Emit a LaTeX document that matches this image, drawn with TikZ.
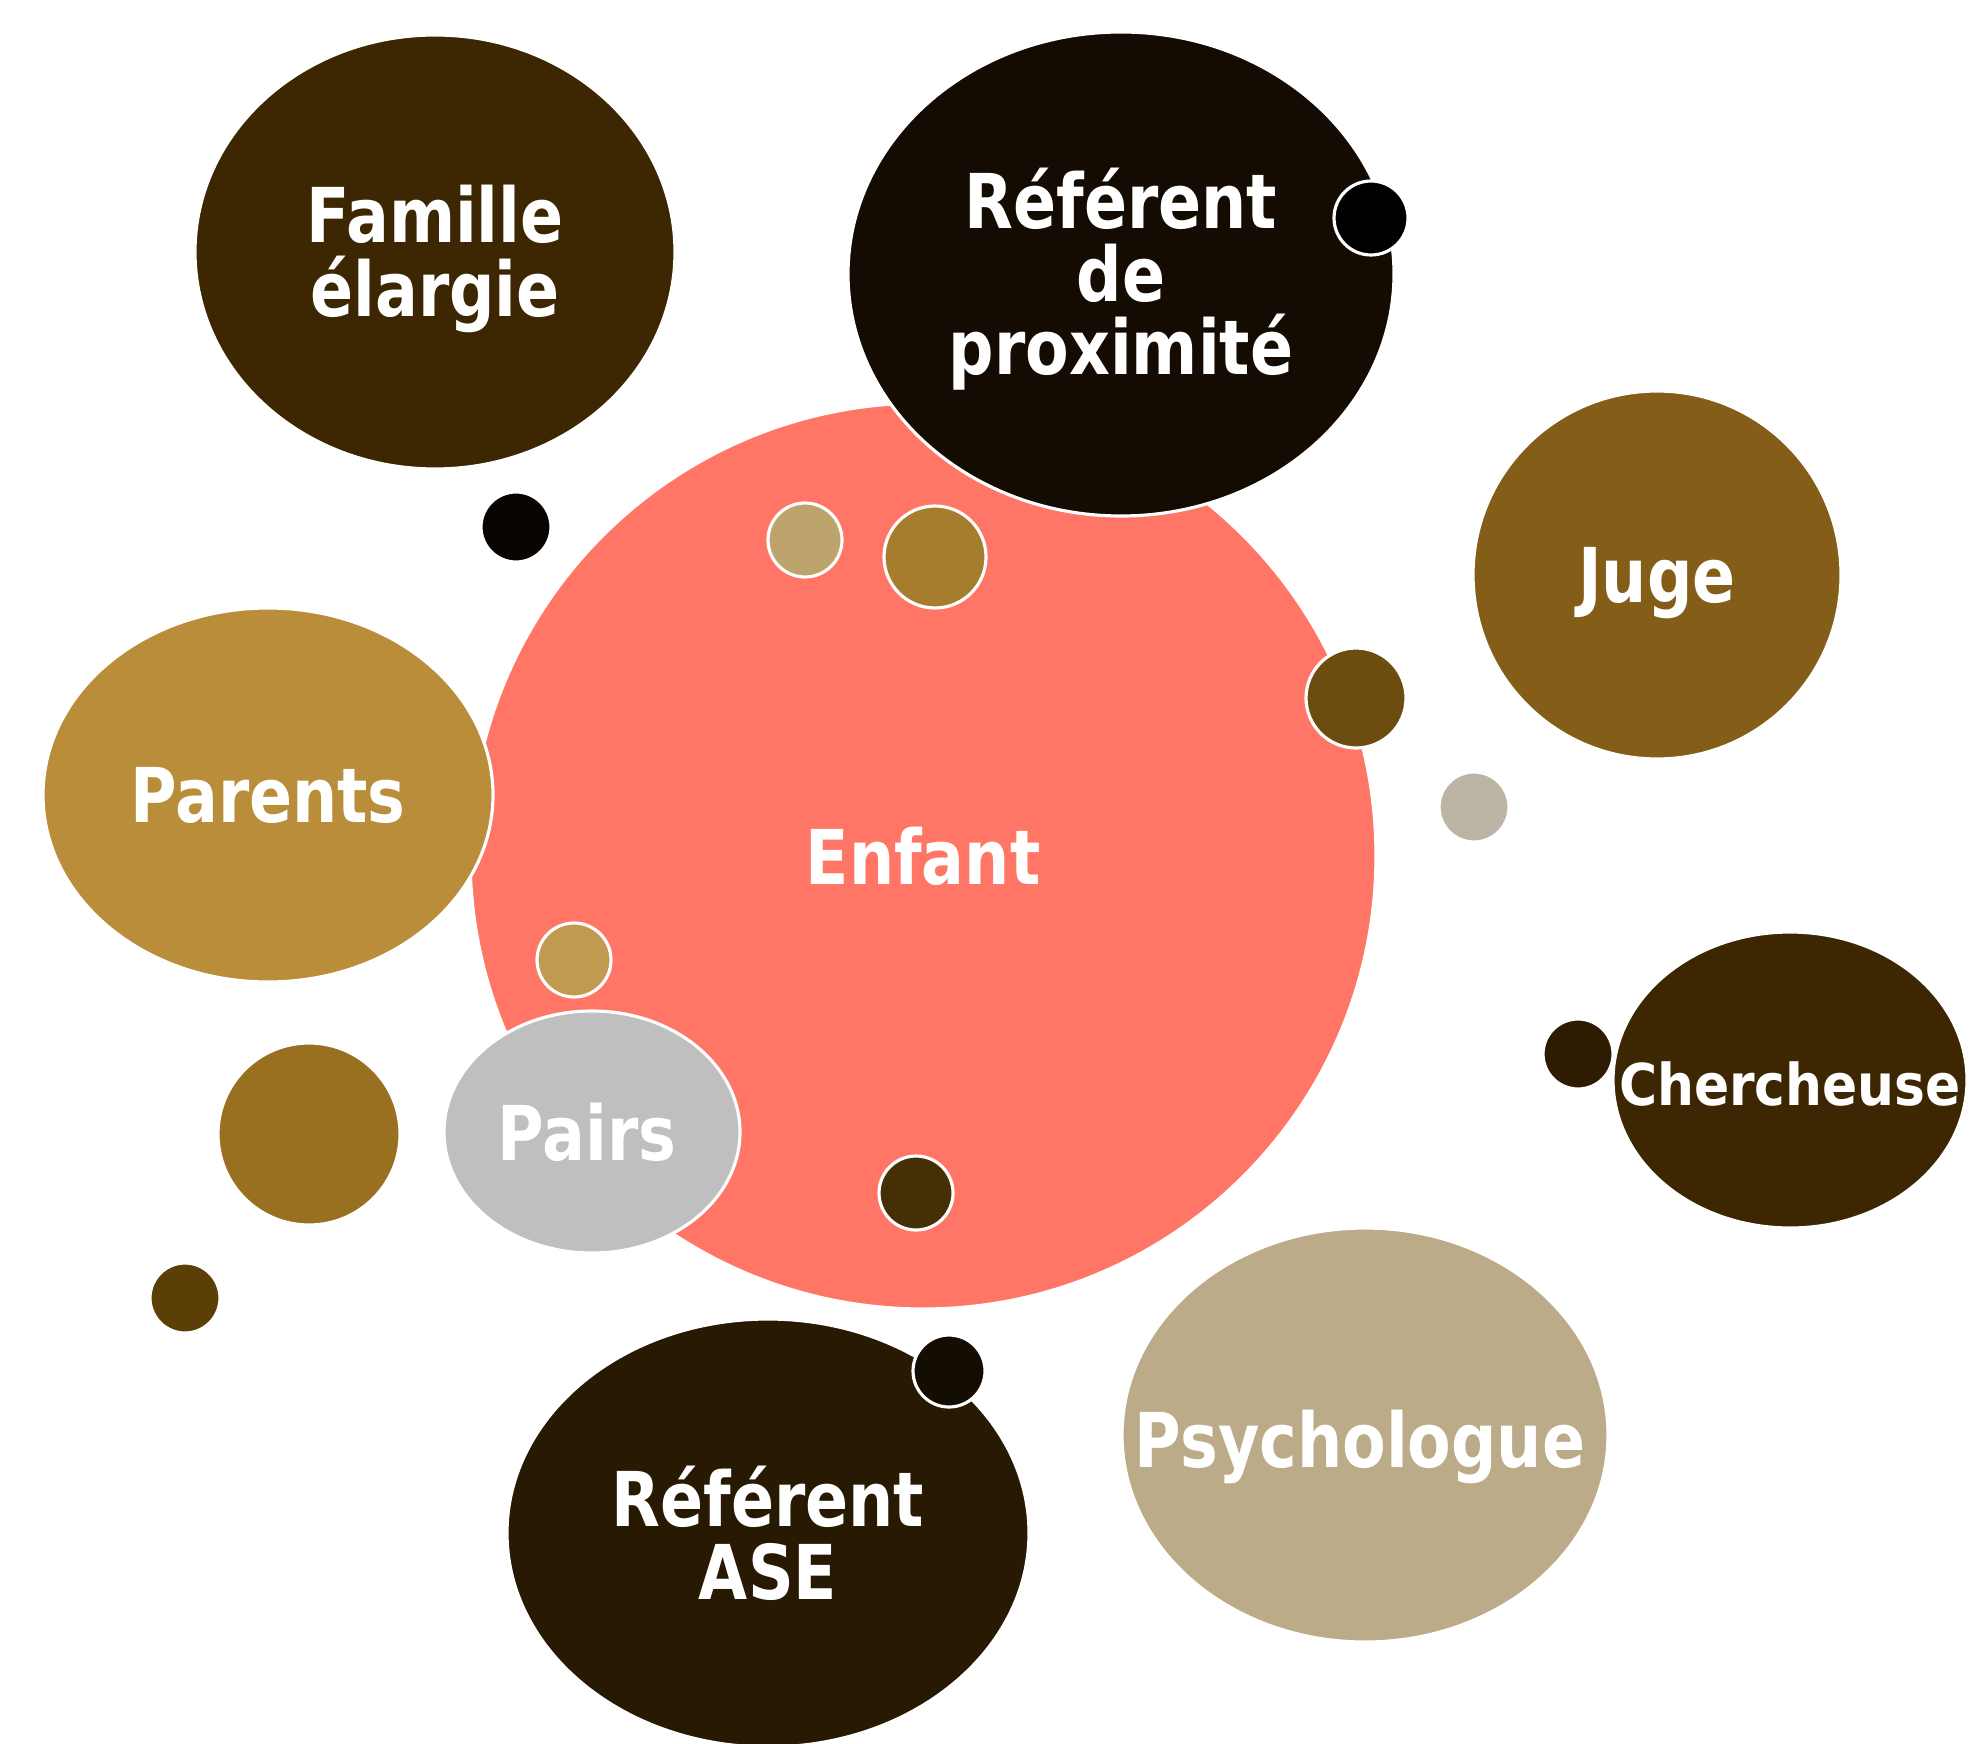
\documentclass[tikz,border=0pt]{standalone}
\usepackage{fontspec}
\usepackage{xcolor}
\newfontfamily\bubblefont[FakeStretch=0.84]{DejaVu Sans}
\newfontfamily\smallbubblefont[FakeStretch=0.9]{DejaVu Sans}
\definecolor{enfantc}{HTML}{FF7666}
\definecolor{famillec}{HTML}{3D2703}
\definecolor{proxc}{HTML}{140C02}
\definecolor{jugec}{HTML}{845E18}
\definecolor{parentsc}{HTML}{B98D3A}
\definecolor{cherchc}{HTML}{3D2703}
\definecolor{psyc}{HTML}{BCAB89}
\definecolor{asec}{HTML}{281903}
\definecolor{pairsc}{HTML}{BFBFBF}
\tikzset{
  bubble/.style={draw=white, line width=0.9pt},
  bubbletext/.style={text=white, align=center, inner sep=0pt,
    font=\bubblefont\bfseries\fontsize{21.5}{20.8}\selectfont},
  smalltext/.style={text=white, align=center, inner sep=0pt,
    font=\smallbubblefont\bfseries\fontsize{16.4}{16.4}\selectfont}
}

\begin{document}
\begin{tikzpicture}[x=0.01cm, y=-0.01cm]
					\useasboundingbox (0,0) rectangle (1983,1743);
					% draw back bubbles
					\filldraw[bubble, fill=famillec] (435,252) ellipse (240 and 217) node[bubbletext, yshift=-0.07cm] (famille) {Famille\\élargie};
					\filldraw[bubble, fill={rgb,255:red,7;green,4;blue,1}] (516,527) circle (35);
					\filldraw[bubble, fill=enfantc] (923,856) circle (453) node[bubbletext] (enfant) {Enfant};
					\filldraw[bubble, fill=proxc] (1121,274) ellipse (273 and 242) node[bubbletext, yshift=-0.05cm] (prox) {Référent\\de\\proximité};
					\filldraw[bubble, fill=black] (1371,218) circle (37);
					\filldraw[bubble, fill=parentsc] (268,795) ellipse (225 and 187) node[bubbletext] (parents) {Parents};
					\filldraw[bubble, fill=jugec] (1657,575) circle (184) node[bubbletext, yshift=-0.08cm] (juge) {Juge};
					\filldraw[bubble, fill=pairsc] (592,1132) ellipse (148 and 121) node[bubbletext, xshift=-0.05cm] (pairs) {Pairs};
					% draw small dots
					\filldraw[bubble, fill={rgb,255:red,189;green,163;blue,108}] (805,540) circle (37);
					\filldraw[bubble, fill={rgb,255:red,166;green,125;blue,44}] (935,557) circle (51);
					\filldraw[bubble, fill={rgb,255:red,109;green,76;blue,16}] (1356,698) circle (50);
					\filldraw[bubble, fill={rgb,255:red,192;green,154;blue,80}] (574,960) circle (37);
					\filldraw[bubble, fill={rgb,255:red,69;green,47;blue,5}] (916,1193) circle (37);
					\filldraw[bubble, fill={rgb,255:red,188;green,180;blue,164}] (1474,807) circle (35);
					\filldraw[bubble, fill={rgb,255:red,153;green,111;blue,32}] (309,1134) circle (91);
					\filldraw[bubble, fill={rgb,255:red,92;green,63;blue,7}] (185,1298) circle (35);
					\filldraw[bubble, fill={rgb,255:red,46;green,28;blue,2}] (1578,1054) circle (35);
					% draw front bubbles
					\filldraw[bubble, fill=cherchc] (1790,1080) ellipse (177 and 148) node[smalltext, yshift=-0.04cm] (cherch) {Chercheuse};
					\filldraw[bubble, fill=psyc] (1365,1435) ellipse (243 and 207) node[bubbletext, yshift=-0.12cm, xshift=-0.05cm] (psy) {Psychologue};
					\filldraw[bubble, fill=asec] (768,1533) ellipse (261 and 214) node[bubbletext] (ase) {Référent\\ASE};
					\filldraw[bubble, fill={rgb,255:red,20;green,13;blue,3}] (949,1371) circle (36);
				\end{tikzpicture}
\end{document}
